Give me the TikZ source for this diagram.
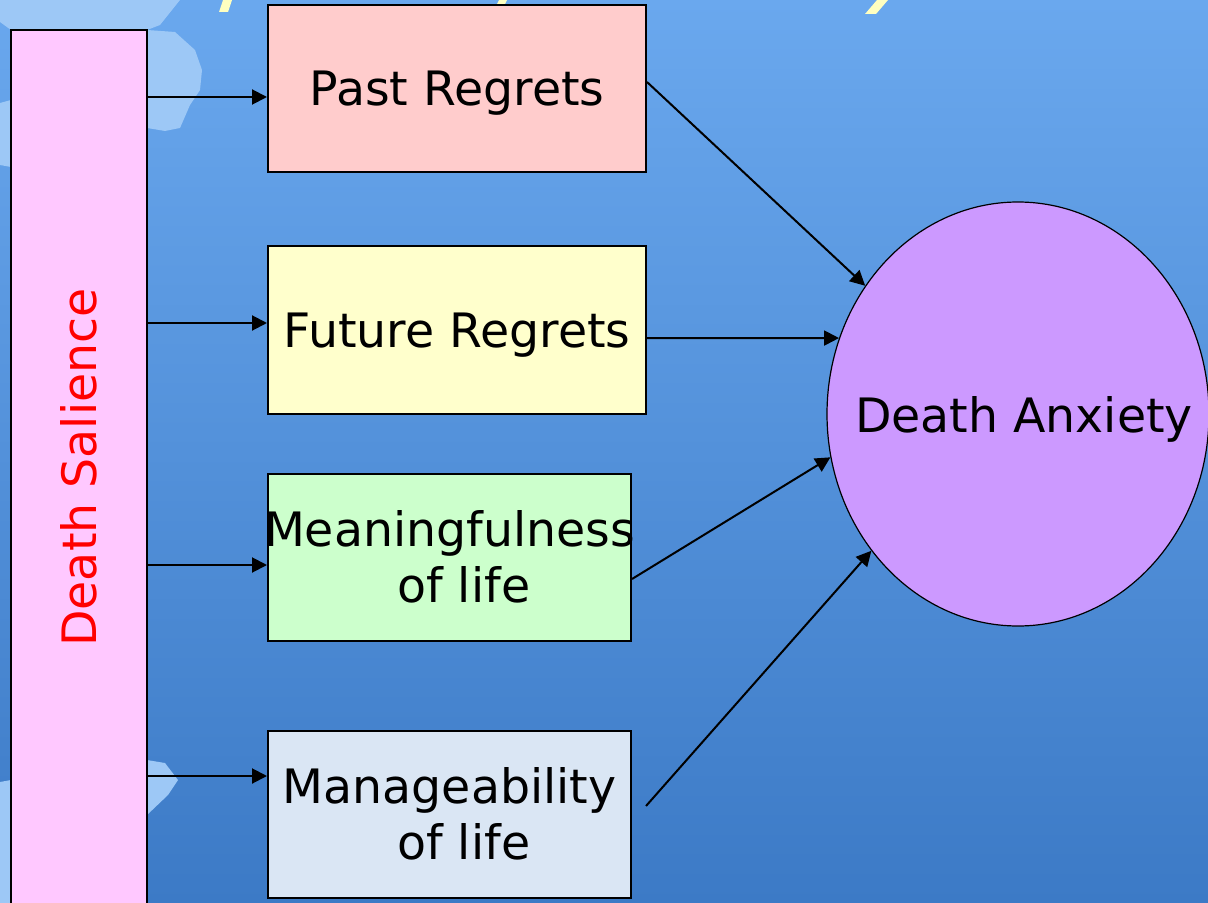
\documentclass[tikz,border=0pt]{standalone}
\usepackage{fontspec}
\setmainfont{DejaVu Sans}
\usepackage{graphicx}
\usetikzlibrary{shapes.geometric, arrows.meta, positioning}
\definecolor{bgtop}{RGB}{106,168,238}
\definecolor{bgbot}{RGB}{60,122,198}
\definecolor{blobblue}{RGB}{157,200,246}
\definecolor{titleyellow}{RGB}{255,255,192}
\definecolor{saliencefill}{RGB}{255,200,255}
\definecolor{pastfill}{RGB}{255,204,204}
\definecolor{futurefill}{RGB}{255,255,204}
\definecolor{meaningfill}{RGB}{204,255,204}
\definecolor{managefill}{RGB}{218,230,244}
\definecolor{anxietyfill}{RGB}{204,153,255}
\tikzset{
    basic/.style={draw=black, line width=1pt, rectangle, align=center, inner sep=0pt, font=\fontsize{23.7}{28}\selectfont},
    factor/.style={basic, minimum width=189pt, minimum height=83.5pt},
    narrow/.style={factor, inner xsep=-5pt, minimum width=181.5pt},
    arrow/.style={-{Triangle[length=7.5pt,width=7.5pt]}, line width=1pt, color=black}
}

\begin{document}
\begin{tikzpicture}[
    x=0.5pt, y=-0.5pt,
    salience/.style={basic, fill=saliencefill, text=red, minimum width=68pt, minimum height=437.5pt},
    outcome/.style={ellipse, draw=black, line width=0.6pt, fill=anxietyfill, inner xsep=-20pt, inner ysep=0pt, text depth=0pt, minimum width=191pt, minimum height=212pt, font=\fontsize{23.7}{28}\selectfont}
]
    \useasboundingbox (0,0) rectangle (1208,903);
    \clip (0,0) rectangle (1208,903);

    % ============================================================
    % Background
    % ============================================================
    \shade[top color=bgtop, bottom color=bgbot] (0,0) rectangle (1208,903);
    \fill[blobblue] (0,0) -- (180,0) -- (160,25) -- (147,30) -- (11,30) -- (0,22) -- cycle;
    \fill[blobblue] (147,30) -- (175,32) -- (195,50) -- (202,70) -- (200,90) -- (190,105) -- (180,128) -- (165,131) -- (147,128) -- cycle;
    \fill[blobblue] (0,103) -- (11,100) -- (11,167) -- (0,165) -- cycle;
    \fill[blobblue] (147,760) -- (165,763) -- (178,780) -- (168,795) -- (147,815) -- cycle;
    \fill[blobblue] (0,782) -- (11,780) -- (11,903) -- (0,903) -- cycle;
    % cut-off title strokes
    \fill[titleyellow] (219,12) -- (228,12) -- (232,0) -- (223,0) -- cycle;
    \fill[titleyellow] (497,4) -- (505,4) -- (507,0) -- (499,0) -- cycle;
    \fill[titleyellow] (865,14) -- (876,14) -- (888,0) -- (877,0) -- cycle;

    % ============================================================
    % Nodes
    % ============================================================
    \node[salience] (salience) at (79,467.5) {\rotatebox{90}{Death Salience}};

    \node[factor, fill=pastfill, text depth=0pt] (past) at (457,88.5) {Past Regrets};
    \node[factor, fill=futurefill, text depth=0pt] (future) at (457,330) {Future Regrets};
    \node[narrow, fill=meaningfill] (meaning) at (449.5,557) {Meaningfulness\\ \hspace{0.6em}of life};
    \node[narrow, fill=managefill] (manage) at (449.5,814) {Manageability\\ \hspace{0.6em}of life};

    \node[outcome] (anxiety) at (1018,414) {\hspace{6pt}Death Anxiety};

    % ============================================================
    % Connections
    % ============================================================
    % Death Salience to the four factors
    \draw[arrow] (salience.east |- 0,97) -- (past.west |- 0,97);
    \draw[arrow] (salience.east |- 0,323) -- (future.west |- 0,323);
    \draw[arrow] (salience.east |- 0,565) -- (meaning.west |- 0,565);
    \draw[arrow] (salience.east |- 0,776) -- (manage.west |- 0,776);

    % Factors to Death Anxiety
    \coordinate (manage_out) at (646,806);
    \draw[arrow] (past.east |- 0,82) -- (anxiety.140);
    \draw[arrow] (future.east |- 0,338) -- (anxiety.157);
    \draw[arrow] (meaning.east |- 0,579) -- (anxiety.193);
    \draw[arrow] (manage_out) -- (anxiety.223);

\end{tikzpicture}
\end{document}
